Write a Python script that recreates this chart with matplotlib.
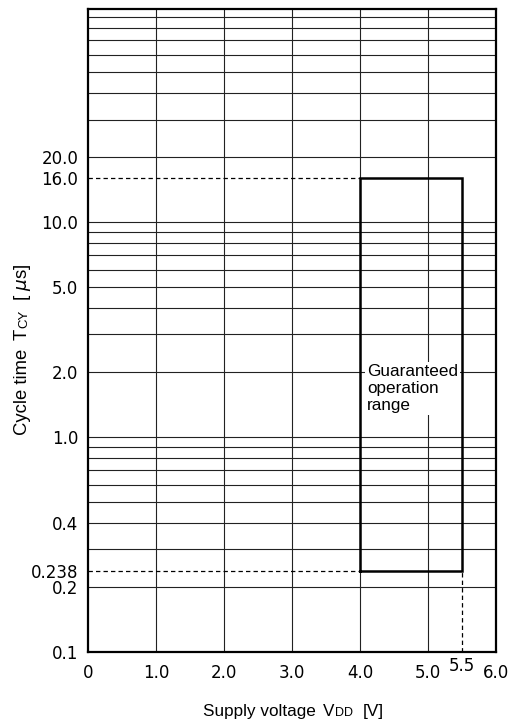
import matplotlib
matplotlib.use('Agg')
import matplotlib.pyplot as plt
from matplotlib.ticker import NullLocator

plt.rcParams['font.family'] = ['Liberation Sans', 'DejaVu Sans']

# guaranteed operation range
vdd_range = [4.0, 5.5]
tcy_range = [0.238, 16.0]

x_ticks = [0, 1, 2, 3, 4, 5, 6]
x_tick_labels = ['0', '1.0', '2.0', '3.0', '4.0', '5.0', '6.0']
y_ticks = [0.1, 0.2, 0.238, 0.4, 1.0, 2.0, 5.0, 10.0, 16.0, 20.0]
y_tick_labels = ['0.1', '0.2', '0.238', '0.4', '1.0', '2.0', '5.0', '10.0', '16.0', '20.0']

x_grid = [1, 2, 3, 4, 5]
y_grid = [0.2, 0.3, 0.4, 0.5, 0.6, 0.7, 0.8, 0.9,
          1, 2, 3, 4, 5, 6, 7, 8, 9,
          10, 20, 30, 40, 50, 60, 70, 80, 90]

W, H = 512, 723
fig = plt.figure(figsize=(W / 100, H / 100), dpi=100)
ax = fig.add_axes([88 / W, 71 / H, 408 / W, 643 / H])
ax.set_yscale('log')
ax.set_xlim(0, 6)
ax.set_ylim(0.1, 98)

grid_kw = dict(color='#222222', lw=0.8, zorder=1)
for v in y_grid:
    ax.axhline(v, **grid_kw)
for v in x_grid:
    ax.axvline(v, **grid_kw)

# dashed guide lines
dash = dict(color='black', lw=0.9, ls=(0, (3.5, 2.5)), zorder=3)
ax.plot([0, vdd_range[0]], [tcy_range[1], tcy_range[1]], **dash)
ax.plot([0, vdd_range[0]], [tcy_range[0], tcy_range[0]], **dash)
ax.plot([vdd_range[1], vdd_range[1]], [0.1, tcy_range[0]], **dash)

# the box
bx = [vdd_range[0], vdd_range[1], vdd_range[1], vdd_range[0], vdd_range[0]]
by = [tcy_range[0], tcy_range[0], tcy_range[1], tcy_range[1], tcy_range[0]]
ax.plot(bx, by, color='black', lw=1.8, zorder=4, solid_joinstyle='miter')

ax.text(4.1, 1.68, 'Guaranteed\noperation\nrange', ha='left', va='center',
        fontsize=12.3, linespacing=1.15, zorder=5,
        bbox=dict(facecolor='white', edgecolor='none', pad=1.5))

ax.set_xticks(x_ticks, x_tick_labels)
ax.set_yticks(y_ticks, y_tick_labels)
ax.yaxis.set_minor_locator(NullLocator())
ax.tick_params(axis='both', length=0, labelsize=12)
ax.tick_params(axis='x', pad=9)
ax.tick_params(axis='y', pad=7)
for lbl in ax.get_xticklabels() + ax.get_yticklabels():
    lbl.set_fontfamily('DejaVu Sans')

ax.annotate('5.5', xy=(vdd_range[1], 0), xycoords=('data', 'axes fraction'),
            xytext=(0, -3.5), textcoords='offset points', ha='center', va='top',
            fontsize=12, family='DejaVu Sans')

for sp in ax.spines.values():
    sp.set_linewidth(1.6)
    sp.set_zorder(6)


def put_label(parts, cx, cy, vertical=False):
    # place text pieces along one baseline, centred on (cx, cy) in pixels from top-left
    r = fig.canvas.get_renderer()
    texts, offs, pos = [], [], 0.0
    for s, size, gap in parts:
        pos += gap
        t = fig.text(0, 0, s, fontsize=size, ha='left', va='baseline',
                     rotation=90 if vertical else 0, rotation_mode='anchor')
        bb = t.get_window_extent(r)
        texts.append(t)
        offs.append(pos)
        pos += bb.height if vertical else bb.width
    for t, off in zip(texts, offs):
        if vertical:
            t.set_position((cx / W, 1 - (cy + pos / 2 - off) / H))
        else:
            t.set_position(((cx - pos / 2 + off) / W, 1 - cy / H))


put_label([('Supply voltage', 12.3, 0), ('V', 12.3, 7), ('DD', 9, 0.5), ('[V]', 12.3, 10)],
          293.5, 716)
put_label([('Cycle time', 13.3, 0), ('T', 13.3, 9), ('CY', 9.5, 0.5), ('[ $\\mu$s]', 13.3, 9)],
          27, 349.5, vertical=True)

fig.savefig('out.png', dpi=100)
